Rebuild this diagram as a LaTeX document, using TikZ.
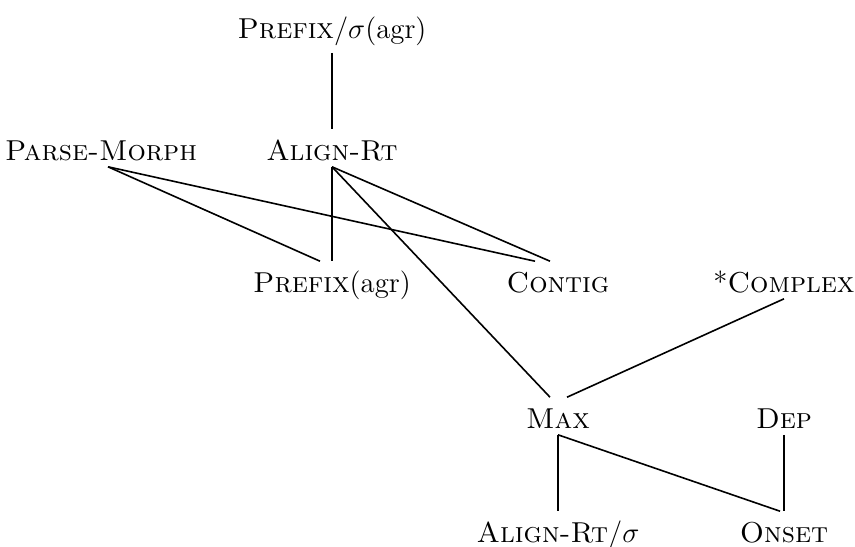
\documentclass[tikz,border=0pt]{standalone}
\begin{document}
\begin{tikzpicture}[x=0.5pt, y=-0.5pt, line width=0.8pt,
        every node/.style={font=\fontsize{14.4}{17}\selectfont, anchor=base, inner xsep=0pt, inner ysep=2pt, text height=13pt, text depth=1pt}]
        \useasboundingbox (0,0) rectangle (855,546);
        \node (prefsig) at (332,38) {\textsc{Prefix}/$\sigma$(agr)};
        \node (parse) at (101,160) {\textsc{Parse-Morph}};
        \node (align) at (332,160) {\textsc{Align-Rt}};
        \node (prefagr) at (332,292) {\textsc{Prefix}(agr)};
        \node (contig) at (558,292) {\textsc{Contig}};
        \node (complex) at (784,292) {*\textsc{Complex}};
        \node (max) at (558,428) {\textsc{Max}};
        \node (dep) at (784,428) {\textsc{Dep}};
        \node (alignsig) at (558,542) {\textsc{Align-Rt}/$\sigma$};
        \node (onset) at (784,542) {\textsc{Onset}};
        \draw ([yshift=-4pt]prefsig.south) -- (align.north);
        \draw ([xshift=3.5pt]parse.south) -- ([xshift=-6pt]prefagr.north);
        \draw ([xshift=3.5pt]parse.south) -- ([xshift=-11.5pt]contig.north);
        \draw (align.south) -- (prefagr.north);
        \draw (align.south) -- ([xshift=-4pt]contig.north);
        \draw (align.south) -- ([xshift=-4pt]max.north);
        \draw (complex.south) -- ([xshift=4.5pt]max.north);
        \draw (max.south) -- (alignsig.north);
        \draw (max.south) -- ([xshift=-2pt]onset.north);
        \draw (dep.south) -- (onset.north);
\end{tikzpicture}
\end{document}
